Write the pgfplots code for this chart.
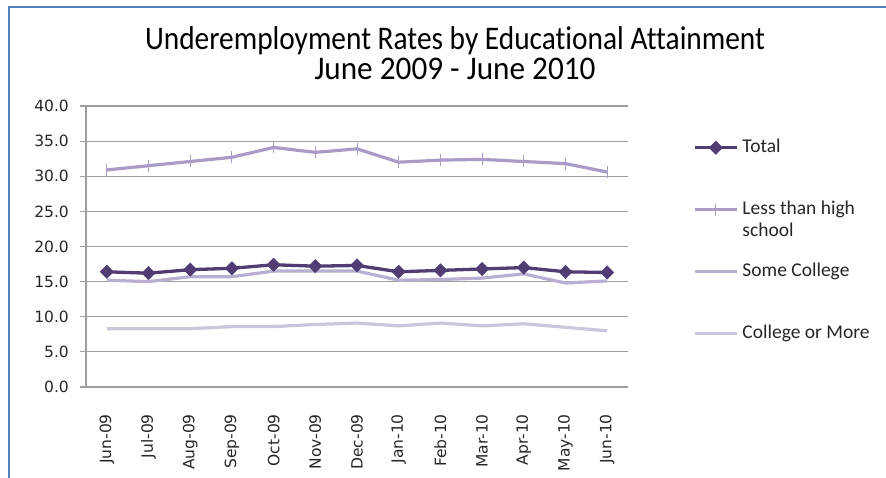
\documentclass[border=0pt]{standalone}
\usepackage{pgfplots}
\pgfplotsset{compat=1.18}
\usepackage{pgfplotstable}
\usepackage{graphicx}
\usepackage{fontspec}
\setmainfont{Carlito}[Ligatures=NoCommon]
\newfontfamily\tickfont{DejaVu Sans}

\definecolor{totalc}{HTML}{4F3D74}
\definecolor{lthsc}{HTML}{A89BC6}
\definecolor{somec}{HTML}{B9AFD3}
\definecolor{collc}{HTML}{CCC6DC}
\definecolor{gridc}{HTML}{9E9E9E}
\definecolor{framec}{HTML}{4F81BD}

% Underemployment rates (%), June 2009 - June 2010
\pgfplotstableread{
idx total lths some coll
0  16.4 30.9 15.2 8.3
1  16.2 31.5 15.0 8.3
2  16.7 32.1 15.7 8.3
3  16.9 32.7 15.7 8.6
4  17.4 34.1 16.5 8.6
5  17.2 33.4 16.5 8.9
6  17.3 33.9 16.5 9.1
7  16.4 32.0 15.2 8.7
8  16.6 32.3 15.3 9.1
9  16.8 32.4 15.5 8.7
10 17.0 32.1 16.1 9.0
11 16.4 31.8 14.8 8.5
12 16.3 30.6 15.1 8.0
}\rates

\begin{document}
\begin{tikzpicture}
% page: the plot area's lower left corner sits at the origin
\useasboundingbox (-86bp,-91bp) rectangle (800bp,387bp);
% chart frame
\draw[framec, line width=2bp] (-77bp,-91bp) -- (-77bp,379.5bp) -- (800bp,379.5bp);
% title
\node[anchor=base, inner sep=0pt] at (369bp,337bp)
  {\resizebox{620bp}{\height}{\fontsize{33bp}{38bp}\selectfont Underemployment Rates by Educational Attainment}};
\node[anchor=base, inner sep=0pt] at (369bp,307bp)
  {\resizebox{281bp}{\height}{\fontsize{33bp}{38bp}\selectfont June 2009 - June 2010}};

\begin{axis}[
  anchor=south west,
  scale only axis, width=542bp, height=281bp,
  xmin=-0.5, xmax=12.5, ymin=0, ymax=40,
  xtick={0,...,12},
  xticklabels={Jun-09,Jul-09,Aug-09,Sep-09,Oct-09,Nov-09,Dec-09,Jan-10,Feb-10,Mar-10,Apr-10,May-10,Jun-10},
  ytick={0,5,...,40},
  ymajorgrids,
  grid style={gridc, line width=1.2bp},
  axis x line*=bottom, axis y line*=left,
  axis line style={gridc, line width=1.2bp},
  x tick style={draw=none},
  y tick style={gridc, line width=1.2bp},
  tick align=outside, major tick length=6bp,
  /pgf/number format/assume math mode=true,
  ticklabel style={font=\tickfont\fontsize{15.5bp}{18bp}\selectfont, text=black!85},
  yticklabel style={/pgf/number format/fixed, /pgf/number format/fixed zerofill,
    /pgf/number format/precision=1, inner sep=0pt, anchor=east, xshift=-11bp},
  xticklabel style={yshift=-21bp, rotate=90, anchor=east, inner sep=0pt},
  legend style={at={(1.1199,0.886)}, anchor=north west, draw=none, fill=none,
    inner sep=0pt, row sep=43bp, column sep=4bp,
    nodes={inner sep=0pt, text height=14bp, text depth=5bp,
      font=\fontsize{19.5bp}{22bp}\selectfont, text=black!85}},
  legend cell align=left,
  legend image code/.code={\draw[#1, mark repeat=2, mark phase=2]
    plot coordinates {(0bp,0bp) (21bp,0bp) (42bp,0bp)};},
]
\addplot[totalc, line width=3.3bp, mark=square*, mark size=4.7bp,
  mark options={rotate=45, solid, fill=totalc, line width=0.5bp}]
  table[x=idx, y=total] {\rates};
\addlegendentry{Total}
\addplot[lthsc, line width=3.2bp, mark=|, mark size=6bp,
  mark options={solid, line width=1bp}]
  table[x=idx, y=lths] {\rates};
\addlegendentry{\parbox[t]{140bp}{Less than high\\school}}
\addplot[somec, line width=3.2bp]
  table[x=idx, y=some] {\rates};
\addlegendentry{Some College}
\addplot[collc, line width=3.2bp]
  table[x=idx, y=coll] {\rates};
\addlegendentry{College or More}
\end{axis}
\end{tikzpicture}
\end{document}
